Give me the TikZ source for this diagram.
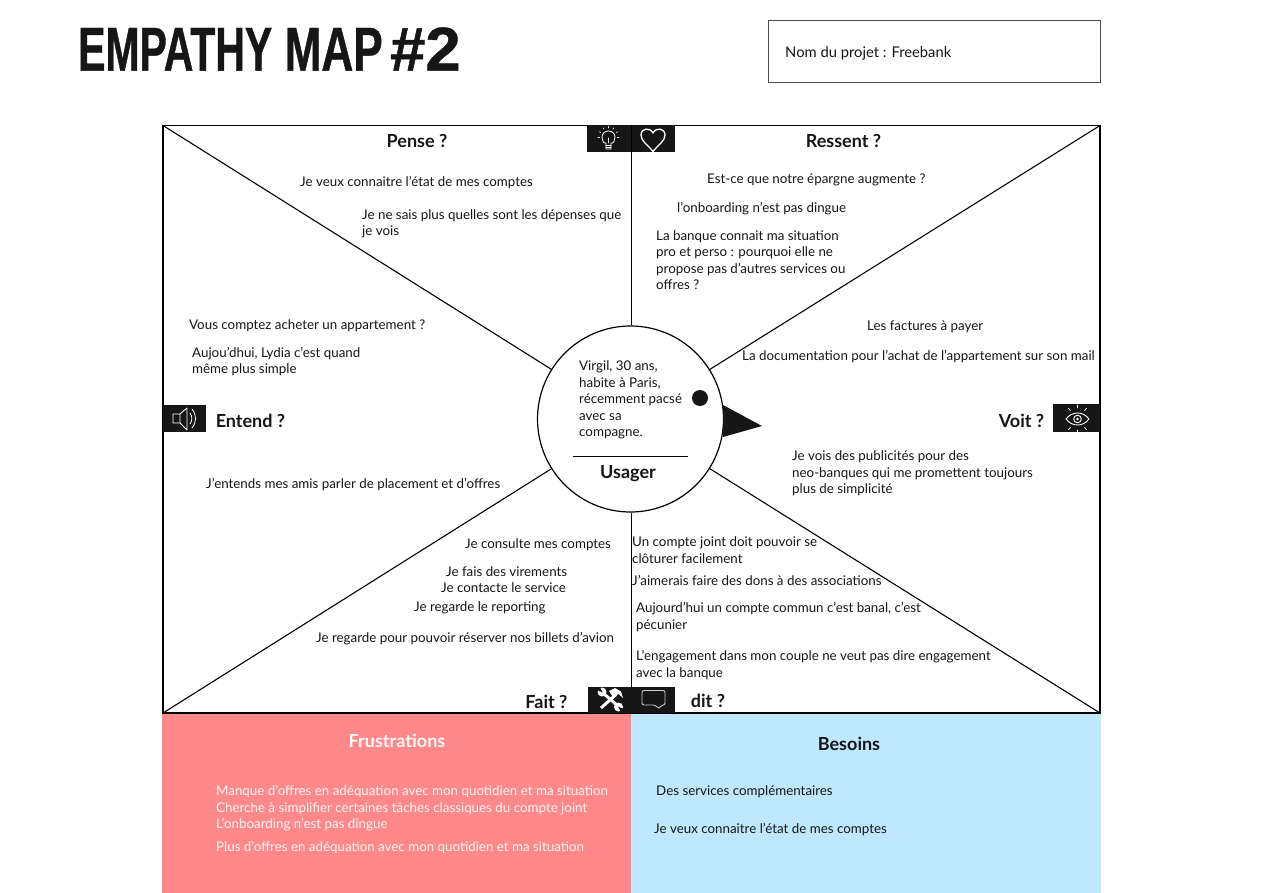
\documentclass[tikz,border=0pt]{standalone}
\usepackage{fontspec}
\setmainfont{Lato}
\newfontfamily\titlefont[FakeStretch=0.66,BoldFeatures={FakeBold=0.6}]{Liberation Sans}
\usetikzlibrary{calc}
\definecolor{inkblack}{HTML}{161616}
\definecolor{frustred}{HTML}{FF8888}
\definecolor{besoinblue}{HTML}{BFE8FF}
\tikzset{
  txt/.style={anchor=west,align=left,inner sep=0pt,yshift=-1.5pt,text=inkblack,font=\fontsize{13.35}{16.5}\selectfont},
  head/.style={anchor=center,inner sep=0pt,text=inkblack,font=\fontsize{18}{20}\selectfont\bfseries},
  iconbox/.style={fill=inkblack,draw=none},
  iconline/.style={white,line width=1pt,line cap=round,line join=round}
}
\begin{document}
\begin{tikzpicture}[x=1pt,y=-1pt]
  \useasboundingbox (0,0) rectangle (1263,893);
  \fill[white] (0,0) rectangle (1263,893);
  % title and project box
  \node[anchor=west,inner sep=0pt,text=inkblack,font=\titlefont\fontsize{62}{62}\selectfont\bfseries] (title) at (78,49) {EMPATHY\hspace{1pt} \scalebox{1.08}[1]{MAP}\hspace{-4pt} \scalebox{1.55}[1]{\#2}};
  \node[draw=black!70,line width=.8pt,minimum width=332pt,minimum height=62pt,anchor=north west,inner sep=0pt] (projet) at (768,20) {};
  \node[txt,font=\fontsize{14.75}{17}\selectfont] (projetlabel) at (785,52) {Nom du projet : Freebank};
  % bottom panels
  \fill[frustred] (162,714) rectangle (631,893);
  \fill[besoinblue] (631,714) rectangle (1101,893);
  % frame
  \coordinate (tl) at (163,125.5);
  \coordinate (tr) at (1100,125.5);
  \coordinate (bl) at (163,713);
  \coordinate (br) at (1100,713);
  \coordinate (tm) at (631.7,125.5);
  \coordinate (bm) at (631.7,713);
  \node[circle,draw,line width=1.2pt,minimum size=186pt,inner sep=0pt] (usager) at (630.5,419) {};
  \draw[line width=1.1pt] (tl) rectangle (br);
  \draw[line width=1.1pt] (tl)--(usager) (tr)--(usager) (bl)--(usager) (br)--(usager);
  \draw[line width=1.1pt] (tm)--(tm|-usager.north) (bm)--(bm|-usager.south);
  \draw[line width=1pt] (573,456.5)--(688,456.5);
  \fill[inkblack] (700,398) circle(8);
  \fill[inkblack] (723,405)--(762,426)--(723,437)--cycle;
  \node[txt] (persona) at (579,398.5) {Virgil, 30 ans,\\habite à Paris,\\récemment pacsé\\avec sa\\compagne.};
  \node[head] (usagerlabel) at (628,474) {Usager};
  % icon boxes
  \fill[iconbox] (587,125) rectangle (631,152);
  \fill[iconbox] (632,125) rectangle (675,152);
  \fill[iconbox] (163,405) rectangle (206,432);
  \fill[iconbox] (1053,404) rectangle (1100,432);
  \fill[iconbox] (588,687) rectangle (675,713);
  % bulb
  \draw[iconline,line width=.8pt] (606,149)--(606,143) to[out=200,in=270] (602,137) to[out=90,in=180] (608.5,131) to[out=0,in=90] (615,137) to[out=270,in=-20] (611,143)--(611,149)--cycle;
  \draw[iconline,line width=.9pt] (606,145)--(611,145) (606,147)--(611,147) (608.5,143)--(608.5,138);
  \foreach \a in {-150,-120,-90,-60,-30,180,0}
    \draw[iconline,line width=.6pt] ($(608.5,137)+(\a:9)$)--($(608.5,137)+(\a:10.5)$);
  % heart
  \draw[iconline,line width=1.3pt] (653,151.5) .. controls (647,144) and (641,141) .. (641,135) .. controls (641,128) and (650,127) .. (653,133) .. controls (656,127) and (665,128) .. (665,135) .. controls (665,141) and (659,144) .. (653,151.5)--cycle;
  % speaker
  \draw[iconline,line width=.8pt] (173,414)--(180,414)--(187,408)--(187,430)--(180,423)--(173,423)--cycle (180,414)--(180,423);
  \draw[iconline,line width=.8pt] (190,413) to[bend left=35] (190,424);
  \draw[iconline,line width=.8pt] (192,409) to[bend left=40] (192,428);
  % eye
  \draw[iconline,line width=.9pt] (1066,419) .. controls (1072,411) and (1083,411) .. (1089,419) .. controls (1083,427) and (1072,427) .. (1066,419)--cycle;
  \draw[iconline,line width=.9pt] (1077.5,419) circle(3.8);
  \fill[white] (1077.5,419) circle(1.4);
  \foreach \a in {-130,-90,-50,50,90,130}
    \draw[iconline,line width=.7pt] ($(1077.5,419)+(\a:11)$)--($(1077.5,419)+(\a:14)$);
  % tools
  \draw[iconline,line width=3pt,line cap=butt] (603,693)--(618,706);
  \fill[white] (602,692) circle(4.5);
  \fill[white] (618.5,707) circle(4.5);
  \fill[inkblack] (602.5,692.5)--(597,690)--(600,687)--cycle;
  \fill[inkblack] (618,706.5)--(623.5,709)--(621,712)--cycle;
  \draw[iconline,line width=3pt,line cap=butt] (616,694.5)--(601,708);
  \fill[white] (609,691)--(615,688)--(621,691.5)--(623,698)--(618.5,694)--(613,697)--cycle;
  % bubble
  \draw[iconline,white!80!black,line width=.9pt,rounded corners=2pt] (642,690.5)--(665,690.5)--(665,705)--(661,705)--(659,709)--(655.5,705)--(642,705)--cycle;
  % headings
  \node[head] (pense) at (417,141) {Pense ?};
  \node[head] (ressent) at (843.5,141) {Ressent ?};
  \node[head] (entend) at (250.5,421) {Entend ?};
  \node[head] (voit) at (1021.5,421) {Voit ?};
  \node[head] (fait) at (546.5,702) {Fait ?};
  \node[head] (dit) at (708,701) {dit ?};
  % pense
  \node[txt] (p1) at (300,181) {Je veux connaitre l’état de mes comptes};
  \node[txt] (p2) at (362,222.5) {Je ne sais plus quelles sont les dépenses que\\je vois};
  % ressent
  \node[txt] (r1) at (707,178) {Est-ce que notre épargne augmente ?};
  \node[txt] (r2) at (677,207) {l’onboarding n’est pas dingue};
  \node[txt] (r3) at (656,258.5) {La banque connait ma situation\\pro et perso : pourquoi elle ne\\propose pas d’autres services ou\\offres ?};
  % entend
  \node[txt] (e1) at (189,324) {Vous comptez acheter un appartement ?};
  \node[txt] (e2) at (192,360) {Aujou’dhui, Lydia c’est quand\\même plus simple};
  \node[txt] (e3) at (206,483) {J’entends mes amis parler de placement et d’offres};
  % voit
  \node[txt] (v1) at (867,325) {Les factures à payer};
  \node[txt] (v2) at (742,355) {La documentation pour l’achat de l’appartement sur son mail};
  \node[txt] (v3) at (792,472) {Je vois des publicités pour des\\neo-banques qui me promettent toujours\\plus de simplicité};
  % fait
  \node[txt] (f1) at (465,543) {Je consulte mes comptes};
  \node[txt] (f2) at (446,570) {Je fais des virements};
  \node[txt] (f3) at (441,586.5) {Je contacte le service};
  \node[txt] (f4) at (414,606) {Je regarde le reporting};
  \node[txt] (f5) at (316,637) {Je regarde pour pouvoir réserver nos billets d’avion};
  % dit
  \node[txt] (d1) at (632,548.5) {Un compte joint doit pouvoir se\\clôturer facilement};
  \node[txt] (d2) at (632,579) {J’aimerais faire des dons à des associations};
  \node[txt] (d3) at (636,615.5) {Aujourd’hui un compte commun c’est banal, c’est\\pécunier};
  \node[txt] (d4) at (636,663.5) {L’engagement dans mon couple ne veut pas dire engagement\\avec la banque};
  % frustrations
  \node[head,text=white!92!frustred] (frust) at (397,741) {Frustrations};
  \node[txt,text=white!92!frustred] (fr1) at (216,807) {Manque d’offres en adéquation avec mon quotidien et ma situation\\Cherche à simplifier certaines tâches classiques du compte joint\\L’onboarding n’est pas dingue};
  \node[txt,text=white!92!frustred] (fr2) at (216,846) {Plus d’offres en adéquation avec mon quotidien et ma situation};
  % besoins
  \node[head] (besoins) at (849,744) {Besoins};
  \node[txt] (b1) at (656,790) {Des services complémentaires};
  \node[txt] (b2) at (654,828) {Je veux connaitre l’état de mes comptes};
\end{tikzpicture}
\end{document}
